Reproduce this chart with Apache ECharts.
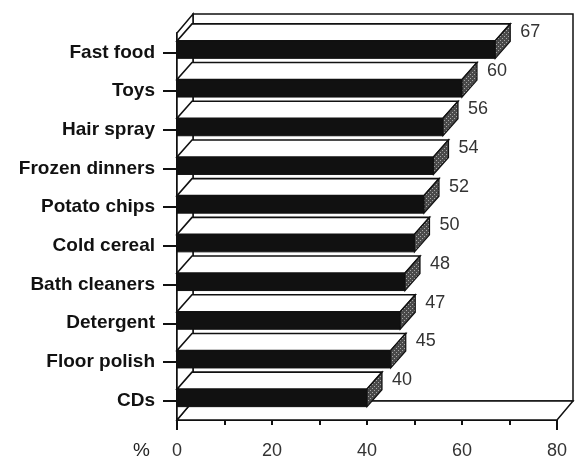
<!DOCTYPE html>
<html>
<head>
<meta charset="utf-8">
<script src="https://cdn.jsdelivr.net/npm/echarts@6/dist/echarts.min.js"></script>
<style>
  html, body { margin: 0; padding: 0; background: #fff; }
  #chart { width: 583px; height: 462px; }
</style>
</head>
<body>
<div id="chart"></div>
<script>
var categories = ['Fast food', 'Toys', 'Hair spray', 'Frozen dinners', 'Potato chips',
  'Cold cereal', 'Bath cleaners', 'Detergent', 'Floor polish', 'CDs'];
var values = [67, 60, 56, 54, 52, 50, 48, 47, 45, 40];
var xMin = 0, xMax = 80, xStep = 20;

var FONT = '"Liberation Sans", Arial, Helvetica, sans-serif';
var DX = 15, DY = -17; // bar depth
var FX = 16, FY = -19; // frame depth

// speckled gray for the bar ends
function makePattern() {
  var c = document.createElement('canvas');
  c.width = 4; c.height = 4;
  var ctx = c.getContext('2d');
  ctx.fillStyle = '#4a4a4a';
  ctx.fillRect(0, 0, 4, 4);
  ctx.fillStyle = '#a8a8a8';
  ctx.fillRect(0, 0, 1, 1);
  ctx.fillRect(2, 2, 1, 1);
  return c;
}
var endFill = { image: makePattern(), repeat: 'repeat' };

function renderFrame(params, api) {
  var cs = params.coordSys;
  var x0 = cs.x, x1 = cs.x + cs.width, y0 = cs.y, y1 = cs.y + cs.height;
  var st = { fill: '#fff', stroke: '#111', lineWidth: 1.5 };
  return {
    type: 'group',
    children: [
      { type: 'polygon', shape: { points: [[x0 + FX, y0 + FY], [x1 + FX, y0 + FY], [x1 + FX, y1 + FY], [x0 + FX, y1 + FY]] }, style: st },
      { type: 'polygon', shape: { points: [[x0, y1], [x1, y1], [x1 + FX, y1 + FY], [x0 + FX, y1 + FY]] }, style: st },
      { type: 'polygon', shape: { points: [[x0, y0], [x0 + FX, y0 + FY], [x0 + FX, y1 + FY], [x0, y1]] }, style: st },
      { type: 'line', shape: { x1: x0, y1: y1, x2: x0, y2: y1 + 10 }, style: { stroke: '#111', lineWidth: 2 } },
      { type: 'line', shape: { x1: x1, y1: y1, x2: x1, y2: y1 + 10 }, style: { stroke: '#111', lineWidth: 2 } }
    ]
  };
}

function renderBar(params, api) {
  var idx = api.value(0);
  var v = api.value(1);
  var p0 = api.coord([xMin, idx]);
  var p1 = api.coord([v, idx]);
  var xa = p0[0], xb = p1[0];
  var yt = p0[1] - 11.5, yb = p0[1] + 6;
  return {
    type: 'group',
    children: [
      { type: 'rect', shape: { x: xa, y: yt, width: xb - xa, height: yb - yt },
        style: { fill: '#111', stroke: '#111', lineWidth: 1 } },
      { type: 'polygon', shape: { points: [[xa, yt], [xb, yt], [xb + DX, yt + DY], [xa + DX, yt + DY]] },
        style: { fill: '#fff', stroke: '#111', lineWidth: 1.6 } },
      { type: 'polygon', shape: { points: [[xb, yt], [xb + DX, yt + DY], [xb + DX, yb + DY], [xb, yb]] },
        style: { fill: endFill, stroke: '#111', lineWidth: 1.2 } },
      { type: 'text', x: xb + 25, y: yt - 9,
        style: { text: String(v), fill: '#333', font: '18px ' + FONT, textVerticalAlign: 'middle' } }
    ]
  };
}

var chart = echarts.init(document.getElementById('chart'));
chart.setOption({
  animation: false,
  backgroundColor: '#fff',
  grid: { left: 177, right: 26, top: 33, bottom: 42, containLabel: false, outerBoundsMode: 'none' },
  xAxis: {
    type: 'value',
    min: xMin, max: xMax, interval: xStep,
    axisLine: { show: true, lineStyle: { color: '#111', width: 2 } },
    axisTick: { show: true, length: 5, lineStyle: { color: '#111', width: 2 } },
    minorTick: { show: true, splitNumber: 2, length: 5, lineStyle: { color: '#111', width: 2 } },
    splitLine: { show: false },
    axisLabel: { margin: 22, color: '#333', fontSize: 18, fontFamily: FONT }
  },
  yAxis: {
    type: 'category',
    data: categories,
    inverse: true,
    axisLine: { show: true, lineStyle: { color: '#111', width: 2 } },
    axisTick: { show: true, alignWithLabel: true, length: 14, lineStyle: { color: '#111', width: 2 } },
    axisLabel: { margin: 22, color: '#111', fontSize: 19, fontWeight: 'bold', fontFamily: FONT }
  },
  graphic: [
    { type: 'text', left: 133, top: 441, style: { text: '%', fill: '#222', font: '19px ' + FONT } }
  ],
  series: [
    { type: 'custom', z: 1, renderItem: renderFrame, data: [[0, 0]], encode: { x: 1, y: 0 }, silent: true },
    { type: 'custom', z: 3, renderItem: renderBar,
      data: values.map(function (v, i) { return [i, v]; }),
      encode: { x: 1, y: 0 } }
  ]
});
</script>
</body>
</html>
